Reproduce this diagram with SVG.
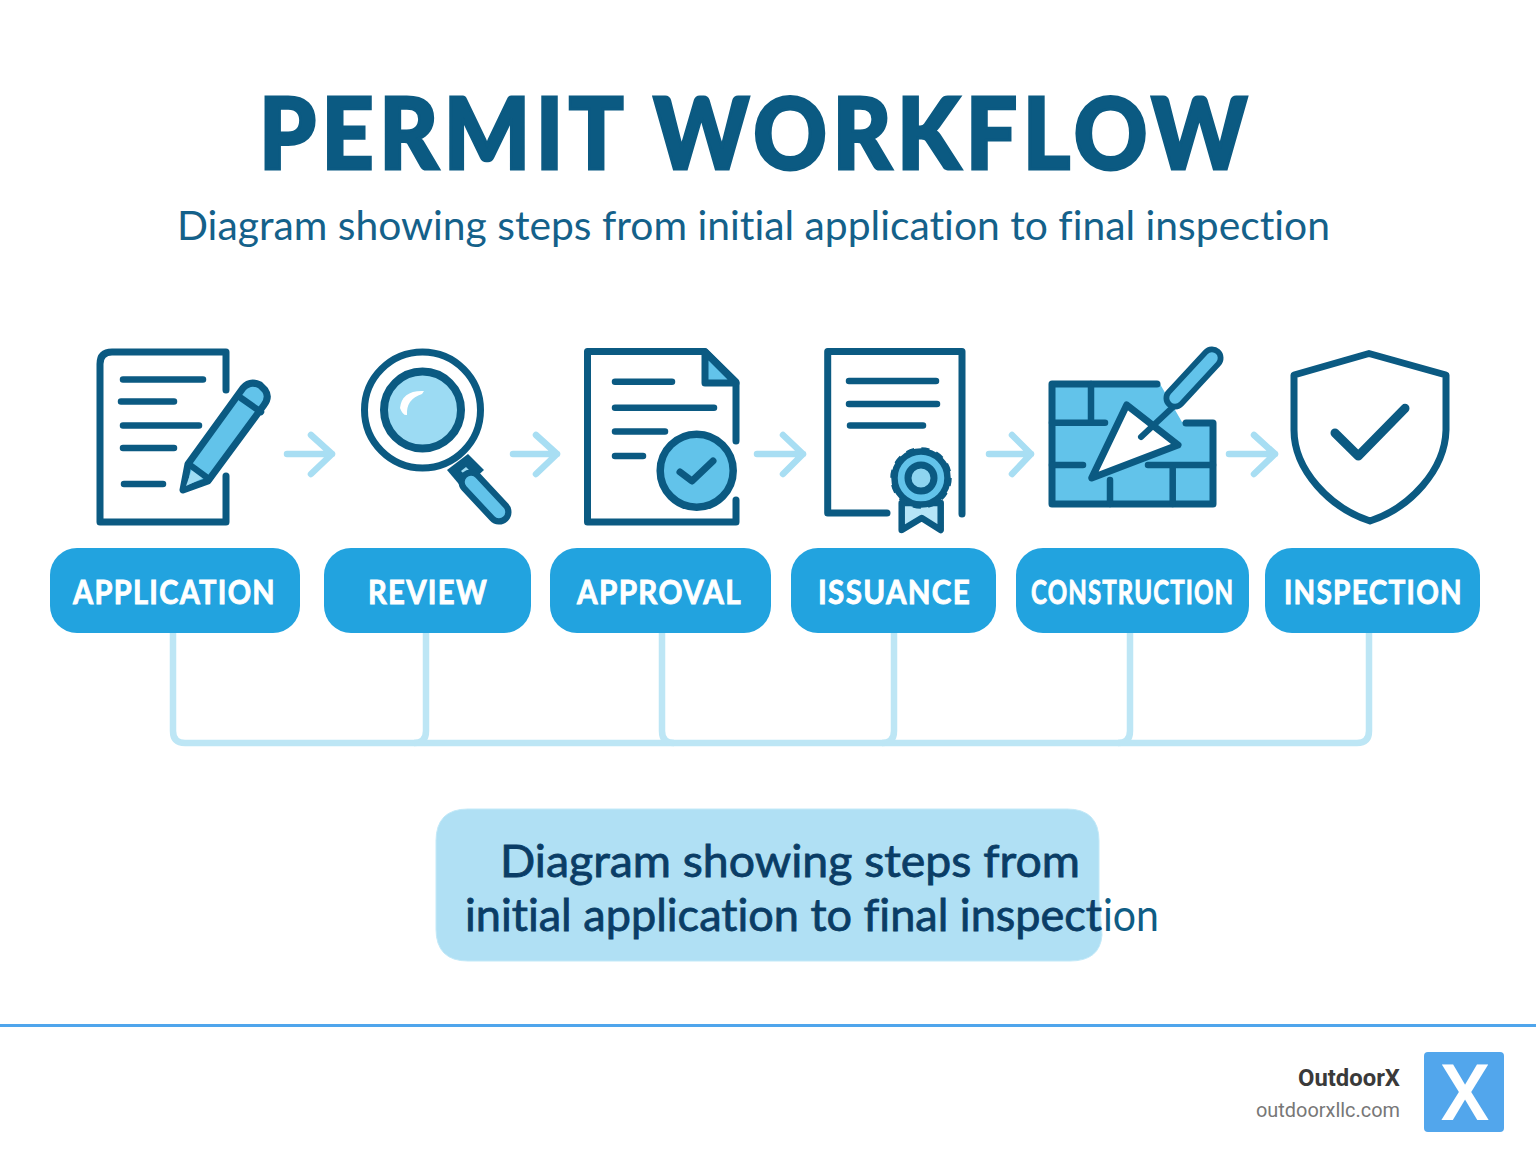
<svg xmlns="http://www.w3.org/2000/svg" width="1536" height="1154" viewBox="0 0 1536 1154">
<style>
text{font-variant-ligatures:none}
.d{fill:none;stroke:#0b5a82;stroke-width:7;stroke-linecap:round;stroke-linejoin:round}
.l{fill:none;stroke:#0b5a82;stroke-width:6.5;stroke-linecap:round}
.f{fill:#62c3ea;stroke:#0b5a82;stroke-width:7;stroke-linecap:round;stroke-linejoin:round}
.a{fill:none;stroke:#a8def3;stroke-width:6.5;stroke-linecap:round;stroke-linejoin:round}
.c{fill:none;stroke:#bde6f5;stroke-width:6.5}
.p{fill:#22a3df}
.t{font-family:Lato,"Open Sans",sans-serif;font-weight:700;font-size:33px;letter-spacing:1.5px;fill:#fff;stroke:#fff;stroke-width:.9}
.k{font-family:Lato,"Open Sans",sans-serif;font-size:45px}
</style>
<rect width="1536" height="1154" fill="#fff"/>
<g id="heading">
<text x="259" y="169" textLength="994" lengthAdjust="spacingAndGlyphs" font-family="Lato,'Open Sans',sans-serif" font-weight="900" font-size="99" letter-spacing="6" fill="#0b5a82" stroke="#0b5a82" stroke-width="3">PERMIT WORKFLOW</text>
<text x="177" y="240" textLength="1153" lengthAdjust="spacingAndGlyphs" font-family="Lato,'Open Sans',sans-serif" font-size="40" fill="#14618a">Diagram showing steps from initial application to final inspection</text>
</g>
<g id="connectors">
<path class="a" d="M287 454H332M311 435L332 454L311 474"/>
<path class="a" d="M513 454H557M536 435L557 454L536 474"/>
<path class="a" d="M757 454H803M783 435L803 454L783 474"/>
<path class="a" d="M989 454H1031M1012 435L1031 454L1012 474"/>
<path class="a" d="M1229 454H1275M1254 435L1275 454L1254 474"/>
<path class="c" d="M173 633V731Q173 743 185 743H1357Q1369 743 1369 731V633"/>
<path class="c" d="M426 633V731Q426 743 414 743"/>
<path class="c" d="M662 633V731Q662 743 674 743"/>
<path class="c" d="M894 633V731Q894 743 882 743"/>
<path class="c" d="M1130 633V731Q1130 743 1118 743"/>
</g>
<g id="application">
<path class="d" d="M226 390V352H112Q100 352 100 364V522H226V476"/>
<path class="l" d="M123 379.5H203M121 401.5H174M123 425.5H199M123 448H174M124 484H163"/>
<path class="f" d="M183 490L188 464L243 388Q250 380 260 385L265 390Q270 397 264 405L208 481Z"/>
<path d="M186 486L192 469L203 478Z" fill="#9fdcf3"/>
<path class="l" d="M190 465L209 479M241 398L261 412"/>
<rect id="application-label" class="p" x="50" y="548" width="250" height="85" rx="27"/>
<text class="t" x="73" y="604" textLength="203" lengthAdjust="spacingAndGlyphs">APPLICATION</text>
</g>
<g id="review">
<path d="M447 470L468 454L484 470L463 489Z" fill="#0b5a82"/>
<path d="M461 471l5-4 5 5-5 4Z" fill="#9fdcf3"/>
<path d="M471 482L499 512" stroke="#0b5a82" stroke-width="25" stroke-linecap="round" fill="none"/>
<path d="M471 482L499 512" stroke="#62c3ea" stroke-width="12.5" stroke-linecap="round" fill="none"/>
<circle class="d" cx="422.5" cy="410" r="58"/>
<circle cx="422.5" cy="410" r="38.5" fill="#9cdbf3" stroke="#0b5a82" stroke-width="8"/>
<path d="M424 391Q402 390 400 408Q403 416 407 415Q406 399 422 394Z" fill="#fff"/>
<rect id="review-label" class="p" x="324" y="548" width="207" height="85" rx="27"/>
<text class="t" x="368" y="604" textLength="120" lengthAdjust="spacingAndGlyphs">REVIEW</text>
</g>
<g id="approval">
<path class="d" d="M736 441V382L705 351.5H587.5V522H736V500"/>
<path class="f" d="M705 352V383H736Z" stroke-width="6"/>
<path class="l" d="M615 381.7H672M615 407.7H714M615 431.5H665M615 456H643"/>
<circle cx="696.7" cy="470.7" r="36.5" fill="#62c3ea" stroke="#0b5a82" stroke-width="7.5"/>
<path d="M680 472L692 481L713 461" fill="none" stroke="#0b5a82" stroke-width="7" stroke-linecap="round" stroke-linejoin="round"/>
<rect id="approval-label" class="p" x="550" y="548" width="221" height="85" rx="27"/>
<text class="t" x="577" y="604" textLength="165" lengthAdjust="spacingAndGlyphs">APPROVAL</text>
</g>
<g id="issuance">
<path class="d" d="M887 513H827.7V351.5H962V514"/>
<path class="l" d="M849 381H936M849 404H937M850 425.5H923"/>
<path d="M901.7 503V530L921.7 518L940.7 530V503Z" fill="#b5e5f7" stroke="#0b5a82" stroke-width="6.5" stroke-linejoin="round"/>
<circle cx="921" cy="478" r="26.5" fill="#62c3ea" stroke="#0b5a82" stroke-width="6.5"/>
<circle cx="921" cy="478" r="29" fill="none" stroke="#0b5a82" stroke-width="3.5" stroke-dasharray="8 7.2"/>
<circle cx="921" cy="478" r="13" fill="#8fd5f0" stroke="#0b5a82" stroke-width="7"/>
<rect id="issuance-label" class="p" x="791" y="548" width="205" height="85" rx="27"/>
<text class="t" x="818" y="604" textLength="153" lengthAdjust="spacingAndGlyphs">ISSUANCE</text>
</g>
<g id="construction">
<path d="M1052 384H1160L1182 422H1213V504H1052Z" fill="#62c3ea"/>
<path class="d" d="M1157 384H1052V504H1213V423H1186"/>
<path class="l" d="M1091 384V421M1052 422.7H1105M1052 465H1083M1148 465H1213M1110 480V504M1172.7 465V504"/>
<path class="d" d="M1126.7 405L1178 445L1091.7 478Z" style="fill:#fff"/>
<path d="M1141 437L1173 407" fill="none" stroke="#0b5a82" stroke-width="6" stroke-linecap="round"/>
<path d="M1175 398L1212 358" fill="none" stroke="#0b5a82" stroke-width="23" stroke-linecap="round"/>
<path d="M1175 398L1212 358" fill="none" stroke="#62c3ea" stroke-width="11.5" stroke-linecap="round"/>
<rect id="construction-label" class="p" x="1016" y="548" width="233" height="85" rx="27"/>
<text class="t" transform="translate(1031 604) scale(.8 1)" x="0" y="0" textLength="254" lengthAdjust="spacingAndGlyphs">CONSTRUCTION</text>
</g>
<g id="inspection">
<path class="d" d="M1369 353.5L1294 375V430C1294 470 1330 508 1370 521C1410 508 1445 470 1446 430V375Z"/>
<path d="M1335 433L1358.3 456L1405 408.3" fill="none" stroke="#0b5a82" stroke-width="9" stroke-linecap="round" stroke-linejoin="round"/>
<rect id="inspection-label" class="p" x="1265" y="548" width="215" height="85" rx="27"/>
<text class="t" x="1284" y="604" textLength="179" lengthAdjust="spacingAndGlyphs">INSPECTION</text>
</g>
<g id="caption">
<path d="M468 809H1067Q1099 809 1099 841V900Q1102 935 1102 935Q1100 961 1070 961H468Q436 961 436 929V841Q436 809 468 809Z" fill="#b0e0f4" stroke="#c2e9f8" stroke-width="1"/>
<text class="k" x="500" y="877" textLength="580" lengthAdjust="spacingAndGlyphs" fill="#0a3d66" stroke="#0a3d66" stroke-width=".8">Diagram showing steps from</text>
<text class="k" x="465" y="931" textLength="637" lengthAdjust="spacingAndGlyphs" fill="#0a3d66" stroke="#0a3d66" stroke-width=".8">initial application to final inspect</text>
<text class="k" x="1103" y="931" textLength="56" lengthAdjust="spacingAndGlyphs" fill="#0f5d85">ion</text>
</g>
<g id="footer">
<rect x="0" y="1024" width="1536" height="3" fill="#4fa5ec"/>
<text x="1298" y="1086" textLength="102" lengthAdjust="spacingAndGlyphs" font-family="Roboto,sans-serif" font-weight="700" font-size="23.5" fill="#3a3a3a">OutdoorX</text>
<text x="1256" y="1117" textLength="144" lengthAdjust="spacingAndGlyphs" font-family="Roboto,sans-serif" font-size="20" fill="#777">outdoorxllc.com</text>
<rect x="1424" y="1052" width="80" height="80" rx="4" fill="#52a6ec"/>
<text x="1440" y="1120" textLength="50" lengthAdjust="spacingAndGlyphs" font-family="Roboto,sans-serif" font-weight="500" font-size="77" fill="#fff">X</text>
</g>
</svg>
